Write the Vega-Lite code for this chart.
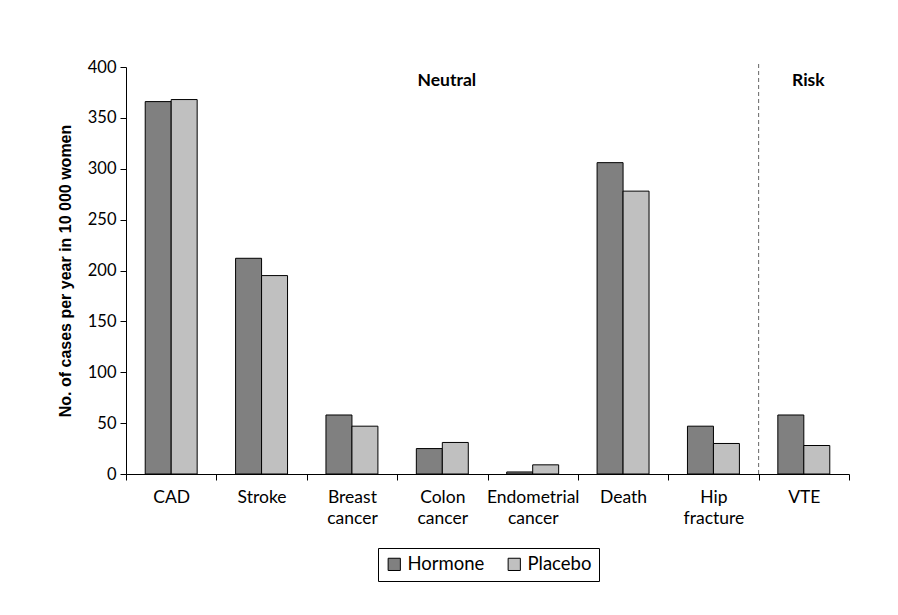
{
  "$schema": "https://vega.github.io/schema/vega-lite/v6.json",
  "width": 723,
  "height": 407,
  "autosize": "none",
  "padding": {"left": 126, "top": 67, "right": 49, "bottom": 141},
  "background": "white",
  "config": {
    "view": {"stroke": null},
    "font": "Lato",
    "axis": {"labelFont": "Lato", "labelColor": "black", "labelFontSize": 16, "domainColor": "black", "tickColor": "black", "grid": false}
  },
  "datasets": {
    "bars": [
      {"cat": "CAD", "group": "Hormone", "value": 366},
      {"cat": "CAD", "group": "Placebo", "value": 368},
      {"cat": "Stroke", "group": "Hormone", "value": 212},
      {"cat": "Stroke", "group": "Placebo", "value": 195},
      {"cat": "Breast cancer", "group": "Hormone", "value": 58},
      {"cat": "Breast cancer", "group": "Placebo", "value": 47},
      {"cat": "Colon cancer", "group": "Hormone", "value": 25},
      {"cat": "Colon cancer", "group": "Placebo", "value": 31},
      {"cat": "Endometrial cancer", "group": "Hormone", "value": 2},
      {"cat": "Endometrial cancer", "group": "Placebo", "value": 9},
      {"cat": "Death", "group": "Hormone", "value": 306},
      {"cat": "Death", "group": "Placebo", "value": 278},
      {"cat": "Hip fracture", "group": "Hormone", "value": 47},
      {"cat": "Hip fracture", "group": "Placebo", "value": 30},
      {"cat": "VTE", "group": "Hormone", "value": 58},
      {"cat": "VTE", "group": "Placebo", "value": 28}
    ],
    "notes": [
      {"cat": "Colon cancer", "value": 386, "label": "Neutral"},
      {"cat": "VTE", "value": 386, "label": "Risk"}
    ]
  },
  "layer": [
    {
      "data": {"name": "bars"},
      "mark": {"type": "bar", "stroke": "black", "strokeWidth": 1},
      "encoding": {
        "x": {
          "field": "cat", "type": "nominal",
          "scale": {"domain": ["CAD", "Stroke", "Breast cancer", "Colon cancer", "Endometrial cancer", "Death", "Hip fracture", "VTE"], "paddingInner": 0, "paddingOuter": 0},
          "axis": {"title": null, "labelAngle": 0, "tickBand": "extent", "tickSize": 6, "labelPadding": 8, "labelFontSize": 17.5,
                   "labelExpr": "split(datum.label, ' ')", "labelLineHeight": 21, "labelBaseline": "top"}
        },
        "xOffset": {"field": "group", "type": "nominal", "scale": {"paddingOuter": 0.74, "paddingInner": 0}},
        "y": {
          "field": "value", "type": "quantitative",
          "scale": {"domain": [0, 400], "nice": false},
          "axis": {"values": [0, 50, 100, 150, 200, 250, 300, 350, 400], "tickSize": 6, "labelPadding": 4, "labelFontSize": 16.5,
                   "title": "No. of cases per year in 10 000 women", "titleFont": "Liberation Sans", "titleFontSize": 16,
                   "titleFontWeight": "bold", "titleColor": "black", "titlePadding": 14}
        },
        "color": {
          "field": "group", "type": "nominal",
          "scale": {"domain": ["Hormone", "Placebo"], "range": ["#808080", "#c0c0c0"]},
          "legend": {"title": null, "orient": "none", "legendX": 252, "legendY": 481, "direction": "horizontal",
                     "strokeColor": "black", "padding": 7, "symbolType": "square", "symbolSize": 150,
                     "symbolStrokeColor": "black", "symbolStrokeWidth": 1, "labelFont": "Lato", "labelFontSize": 18.5,
                     "labelColor": "black", "columnPadding": 20, "symbolOpacity": 1}
        }
      }
    },
    {
      "data": {"name": "notes"},
      "transform": [{"filter": "datum.label == 'Risk'"}],
      "mark": {"type": "rule", "strokeDash": [4, 3], "color": "#666666", "strokeWidth": 1},
      "encoding": {
        "x": {"field": "cat", "type": "nominal", "bandPosition": 0},
        "y": {"datum": 0, "type": "quantitative"},
        "y2": {"datum": 405}
      }
    },
    {
      "data": {"name": "notes"},
      "mark": {"type": "text", "font": "Lato", "fontWeight": "bold", "fontSize": 17.5, "color": "black", "align": "center", "baseline": "middle"},
      "encoding": {
        "x": {"field": "cat", "type": "nominal", "bandPosition": 0.55},
        "y": {"field": "value", "type": "quantitative"},
        "text": {"field": "label"}
      }
    }
  ]
}
